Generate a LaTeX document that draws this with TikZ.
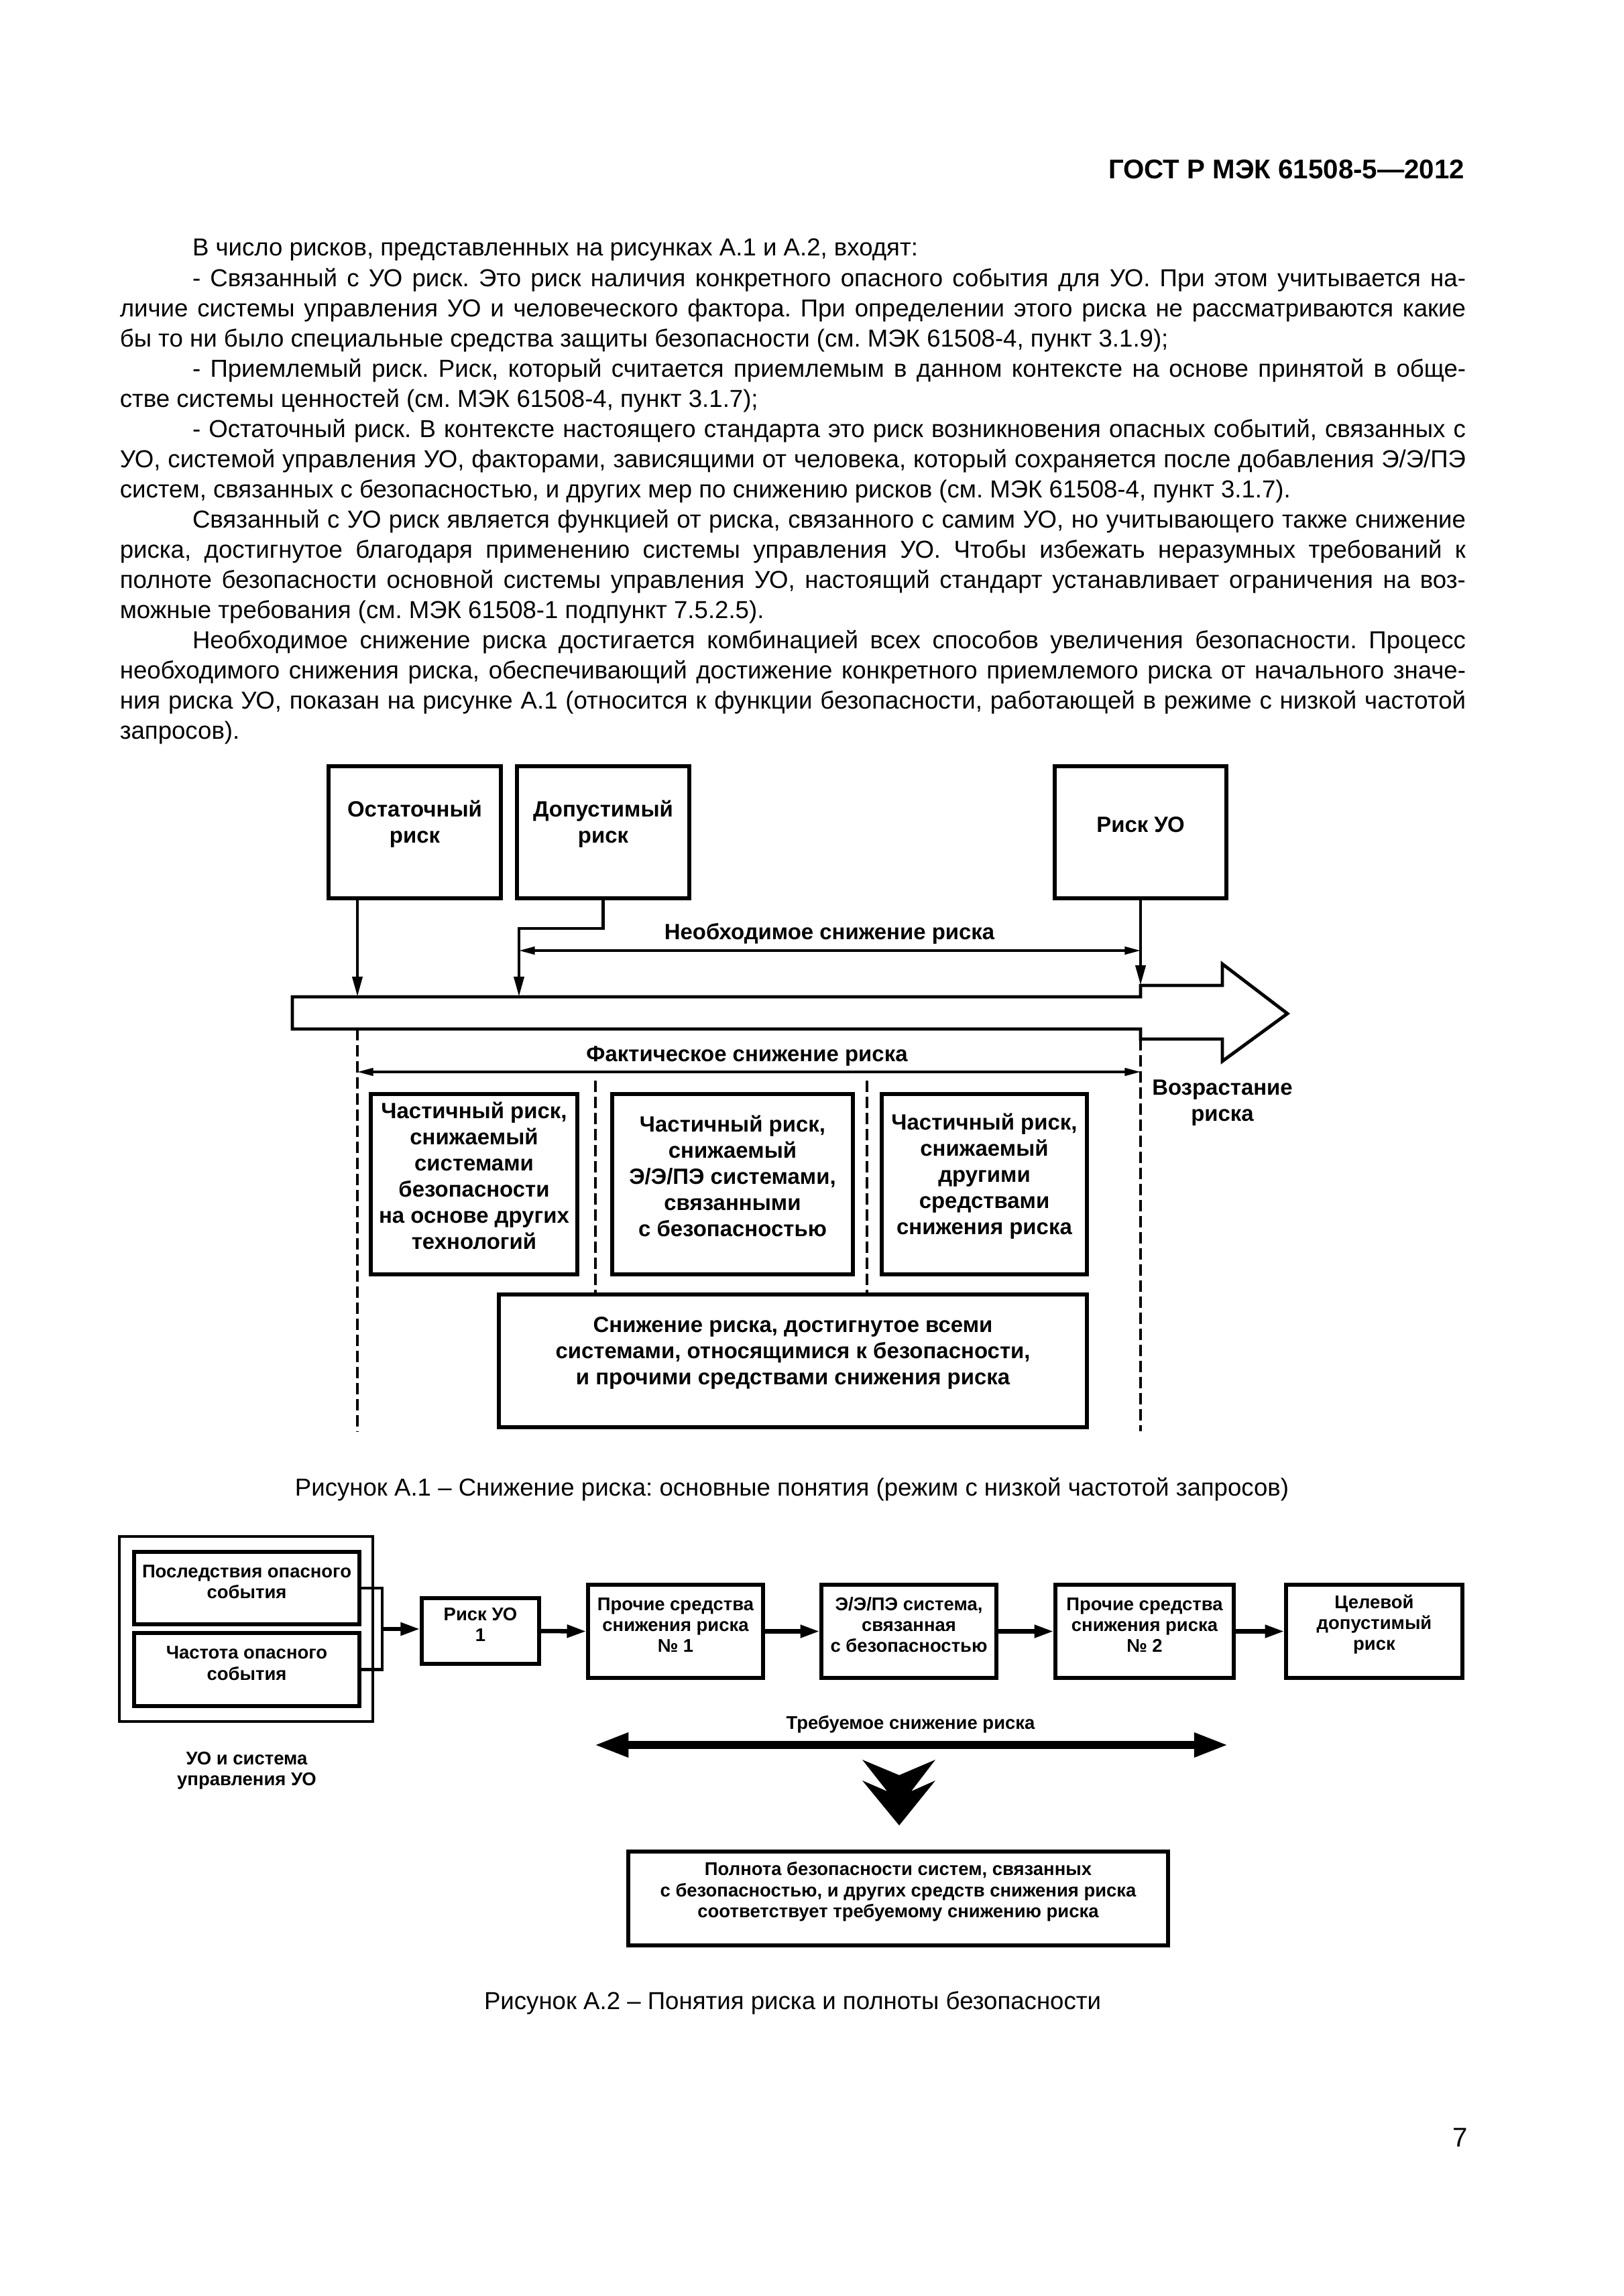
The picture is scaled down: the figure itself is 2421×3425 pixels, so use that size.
\documentclass[tikz,border=0pt]{standalone}
\usepackage{fontspec}
\setmainfont{Liberation Sans}
\usetikzlibrary{arrows.meta,fit}
\frenchspacing

\newcommand\fullln[1]{\makebox[493.5pt][s]{#1}}
\newcommand\indln[1]{\hspace*{26.6pt}\makebox[466.9pt][s]{#1}}
\newcommand\indlast[1]{\hspace*{26.6pt}#1}

\begin{document}
\begin{tikzpicture}[x=0.24588pt,y=-0.24588pt]
    \tikzstyle{blk}=[draw,line width=1.25pt,inner sep=0pt,align=center,font=\fontsize{8.1}{9.6}\selectfont\bfseries]
    \tikzstyle{sblk}=[draw,line width=1.3pt,inner sep=0pt,align=center,font=\fontsize{6.75}{7.7}\selectfont\bfseries]
    \tikzstyle{lbl}=[inner sep=0pt,align=center,font=\fontsize{8.1}{9.6}\selectfont\bfseries]
    \tikzstyle{slbl}=[inner sep=0pt,align=center,font=\fontsize{6.75}{7.7}\selectfont\bfseries]
    \tikzstyle{captxt}=[inner sep=0pt,font=\fontsize{9}{11}\selectfont]
    \tikzstyle{feedarr}=[line width=1.2pt,-{Triangle[length=7.4pt,width=3.6pt]}]
    \tikzstyle{spanarr}=[line width=0.8pt,{Triangle[length=5.8pt,width=2.8pt]}-{Triangle[length=5.8pt,width=2.8pt]}]
    \tikzstyle{guideline}=[line width=1.2pt,dash pattern=on 4.2pt off 1.7pt]
    \tikzstyle{flowarr}=[line width=1.6pt,-{Triangle[length=7.1pt,width=4.5pt]}]
    \tikzstyle{bigspan}=[line width=3pt,{Triangle[length=12.6pt,width=8.3pt]}-{Triangle[length=12.6pt,width=8.3pt]}]
    \fill[white] (0,0) rectangle (2421,3425);
    \node[anchor=base east,inner sep=0pt,font=\fontsize{9.9}{12}\selectfont\bfseries] (hdr) at (2185,267) {ГОСТ Р МЭК 61508-5—2012};
    \node[anchor=base west,inner sep=0pt] (txt) at (178,382) {\parbox[t]{493.5pt}{\fontsize{9}{11.07}\selectfont
        \indlast{В число рисков, представленных на рисунках А.1 и А.2, входят:}\\
        \indln{- Связанный с УО риск. Это риск наличия конкретного опасного события для УО. При этом учитывается на-}\\
        \fullln{личие системы управления УО и человеческого фактора. При определении этого риска не рассматриваются какие}\\
        бы то ни было специальные средства защиты безопасности (см. МЭК 61508-4, пункт 3.1.9);\\
        \indln{- Приемлемый риск. Риск, который считается приемлемым в данном контексте на основе принятой в обще-}\\
        стве системы ценностей (см. МЭК 61508-4, пункт 3.1.7);\\
        \indln{- Остаточный риск. В контексте настоящего стандарта это риск возникновения опасных событий, связанных с}\\
        \fullln{УО, системой управления УО, факторами, зависящими от человека, который сохраняется после добавления Э/Э/ПЭ}\\
        систем, связанных с безопасностью, и других мер по снижению рисков (см. МЭК 61508-4, пункт 3.1.7).\\
        \indln{Связанный с УО риск является функцией от риска, связанного с самим УО, но учитывающего также снижение}\\
        \fullln{риска, достигнутое благодаря применению системы управления УО. Чтобы избежать неразумных требований к}\\
        \fullln{полноте безопасности основной системы управления УО, настоящий стандарт устанавливает ограничения на воз-}\\
        можные требования (см. МЭК 61508-1 подпункт 7.5.2.5).\\
        \indln{Необходимое снижение риска достигается комбинацией всех способов увеличения безопасности. Процесс}\\
        \fullln{необходимого снижения риска, обеспечивающий достижение конкретного приемлемого риска от начального значе-}\\
        \fullln{ния риска УО, показан на рисунке А.1 (относится к функции безопасности, работающей в режиме с низкой частотой}\\
        запросов).}};
    \node[blk,fit={(490,1143) (747,1340)}] (ost) {Остаточный\\риск};
    \node[blk,fit={(771,1143) (1028,1340)}] (dop) {Допустимый\\риск};
    \node[blk,fit={(1573,1143) (1829,1340)}] (uor) {Риск УО};
    \draw[line width=1.2pt,line join=miter] (436,1487) -- (1701,1487) -- (1701,1470) -- (1823,1470) -- (1823,1438) -- (1920,1512) -- (1823,1583) -- (1823,1550) -- (1701,1550) -- (1701,1535) -- (436,1535) -- cycle;
    \coordinate (barost) at (533,1487);
    \coordinate (bardop) at (774,1487);
    \coordinate (baruo) at (1701,1470);
    \coordinate (stepdop) at (774,1385);
    \draw[feedarr] (ost.south -| barost) -- (barost);
    \draw[feedarr] (dop.south) |- (stepdop) -- (bardop);
    \draw[feedarr] (uor.south) -- (baruo);
    \coordinate (nl) at (774,1418);
    \coordinate (nr) at (1701,1418);
    \draw[spanarr] (nl) -- (nr);
    \node[lbl] (needlbl) at (1237,1393) {Необходимое снижение риска};
    \coordinate (dl1) at (533,1535);
    \coordinate (dl2) at (533,2135);
    \coordinate (dr1) at (1701,1550);
    \coordinate (dr2) at (1701,2135);
    \draw[guideline] (dl1) -- (dl2);
    \draw[guideline] (dr1) -- (dr2);
    \coordinate (fl) at (533,1599);
    \coordinate (fr) at (1701,1599);
    \draw[spanarr] (fl) -- (fr);
    \node[lbl] (factlbl) at (1114,1575) {Фактическое снижение риска};
    \node[lbl] (growlbl) at (1823,1645) {Возрастание\\риска};
    \node[blk,fit={(553,1632) (861,1901)}] (part1) {Частичный риск,\\снижаемый\\системами\\безопасности\\на основе других\\технологий};
    \node[blk,fit={(913,1632) (1272,1901)}] (part2) {Частичный риск,\\снижаемый\\Э/Э/ПЭ системами,\\связанными\\с безопасностью};
    \node[blk,fit={(1315,1632) (1621,1901)}] (part3) {Частичный риск,\\снижаемый\\другими\\средствами\\снижения риска};
    \node[blk,fit={(744,1931) (1621,2129)}] (allred) {Снижение риска, достигнутое всеми\\системами, относящимися к безопасности,\\и прочими средствами снижения риска};
    \coordinate (ds1) at (888,1612);
    \coordinate (ds2) at (1293,1612);
    \draw[guideline] (ds1) -- (ds1 |- allred.north);
    \draw[guideline] (ds2) -- (ds2 |- allred.north);
    \node[captxt] (cap1) at (1181,2222) {Рисунок А.1 – Снижение риска: основные понятия (режим с низкой частотой запросов)};
    \node[draw,line width=0.9pt,inner sep=0pt,fit={(178,2292) (556,2568)}] (uosys) {};
    \node[sblk,fit={(200,2315) (536,2423)}] (posl) {Последствия опасного\\события};
    \node[sblk,fit={(200,2436) (536,2545)}] (chast) {Частота опасного\\события};
    \coordinate (brk) at (570,2430);
    \draw[line width=1.1pt] (posl.east) -| (brk) |- (chast.east);
    \node[sblk,fit={(629,2384) (804,2482)}] (risk1) {Риск УО\\1};
    \node[sblk,fit={(877,2364) (1138,2503)}] (other1) {Прочие средства\\снижения риска\\№ 1};
    \node[sblk,fit={(1225,2364) (1486,2503)}] (eep) {Э/Э/ПЭ система,\\связанная\\с безопасностью};
    \node[sblk,fit={(1574,2364) (1840,2503)}] (other2) {Прочие средства\\снижения риска\\№ 2};
    \node[sblk,fit={(1918,2364) (2181,2503)}] (target) {Целевой\\допустимый\\риск};
    \draw[flowarr] (brk) -- (risk1.west |- brk);
    \draw[flowarr] (risk1.east) -- (other1.west);
    \draw[flowarr] (other1.east) -- (eep.west);
    \draw[flowarr] (eep.east) -- (other2.west);
    \draw[flowarr] (other2.east) -- (target.west);
    \node[slbl] (uolbl) at (368,2641) {УО и система\\управления УО};
    \node[slbl] (reqlbl) at (1358,2572) {Требуемое снижение риска};
    \coordinate (rl) at (886,2603);
    \coordinate (rr) at (1832,2603);
    \draw[bigspan] (rl) -- (rr);
    \fill (1286,2625) -- (1341,2648) -- (1395,2625) -- (1359,2672) -- (1395,2656) -- (1341,2723) -- (1286,2656) -- (1323,2672) -- cycle;
    \node[sblk,fit={(937,2762) (1742,2902)}] (integr) {Полнота безопасности систем, связанных\\с безопасностью, и других средств снижения риска\\соответствует требуемому снижению риска};
    \node[captxt] (cap2) at (1182,2988) {Рисунок А.2 – Понятия риска и полноты безопасности};
    \node[anchor=base east,inner sep=0pt,font=\fontsize{9.9}{12}\selectfont] (pgno) at (2190,3202) {7};
\end{tikzpicture}
\end{document}
